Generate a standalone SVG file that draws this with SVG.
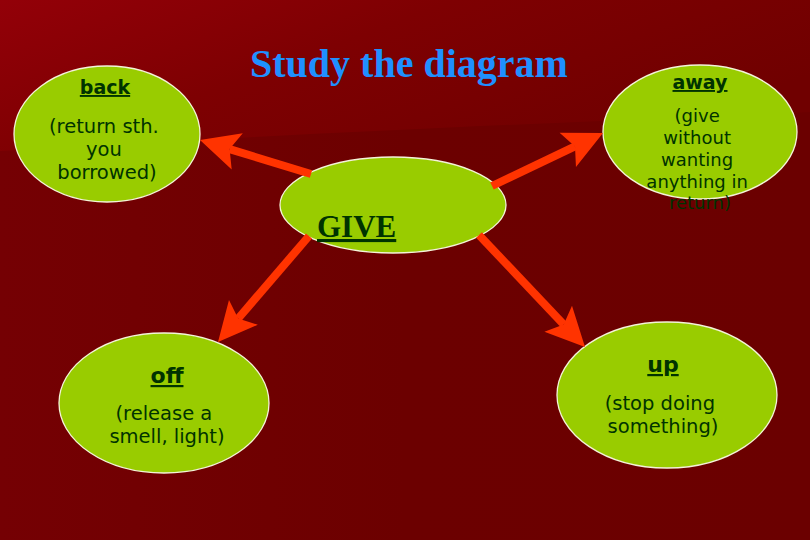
<svg xmlns="http://www.w3.org/2000/svg" width="810" height="540" viewBox="0 0 810 540">
  <defs>
    <linearGradient id="bgLow" x1="0" y1="0" x2="1" y2="0">
      <stop offset="0" stop-color="#750003"/>
      <stop offset="0.5" stop-color="#6c0000"/>
      <stop offset="1" stop-color="#6b0000"/>
    </linearGradient>
    <linearGradient id="bgTop" x1="0" y1="0" x2="1" y2="0.5">
      <stop offset="0" stop-color="#930008"/>
      <stop offset="0.45" stop-color="#7e0002"/>
      <stop offset="1" stop-color="#700000"/>
    </linearGradient>
    <marker id="head" markerUnits="userSpaceOnUse" markerWidth="60" markerHeight="60" refX="0" refY="0" orient="auto" overflow="visible">
      <path d="M31,0 L-8,-19 L0,0 L-8,19 Z" fill="#ff3300"/>
    </marker>
    <style>
      .node ellipse { fill: #99cc00; stroke: #f4f4d8; stroke-width: 1.3; }
      .head { font-family: "DejaVu Sans", Verdana, sans-serif; font-weight: bold; fill: #003300; text-anchor: middle; text-decoration: underline; }
      .desc { font-family: "DejaVu Sans", Verdana, sans-serif; fill: #003300; text-anchor: middle; }
      .conn line { stroke: #ff3300; stroke-width: 8; marker-end: url(#head); }
      .title { font-family: "Liberation Serif", "Times New Roman", serif; font-weight: bold; font-size: 40px; fill: #1f90ff; }
      .give { font-family: "Liberation Serif", "Times New Roman", serif; font-weight: bold; font-size: 31px; fill: #003300; text-decoration: underline; }
    </style>
  </defs>

  <rect x="0" y="0" width="810" height="540" fill="url(#bgLow)"/>
  <path d="M0,0 H810 V112 C620,120 320,132 0,151 Z" fill="url(#bgTop)"/>

  <text class="title" x="250" y="77">Study the diagram</text>

  <g id="node-back" class="node">
    <ellipse cx="107" cy="134" rx="93" ry="68"/>
    <text class="head" x="105" y="94" font-size="19">back</text>
    <text class="desc" font-size="19.5">
      <tspan x="107" y="133">(return sth.</tspan>
      <tspan x="107" y="156">you</tspan>
      <tspan x="107" y="179">borrowed)</tspan>
    </text>
  </g>

  <g id="node-away" class="node">
    <ellipse cx="700" cy="132" rx="97" ry="67"/>
    <text class="head" x="700" y="89" font-size="19">away</text>
    <text class="desc" font-size="18">
      <tspan x="700" y="122">(give</tspan>
      <tspan x="700" y="144">without</tspan>
      <tspan x="700" y="166">wanting</tspan>
      <tspan x="700" y="188">anything in</tspan>
      <tspan x="700" y="209">return)</tspan>
    </text>
  </g>

  <g id="node-give" class="node">
    <ellipse cx="393" cy="205" rx="113" ry="48"/>
    <text class="give" x="317" y="237">GIVE</text>
  </g>

  <g id="node-off" class="node">
    <ellipse cx="164" cy="403" rx="105" ry="70"/>
    <text class="head" x="167" y="383" font-size="22">off</text>
    <text class="desc" font-size="19.5">
      <tspan x="167" y="420">(release a</tspan>
      <tspan x="167" y="443">smell, light)</tspan>
    </text>
  </g>

  <g id="node-up" class="node">
    <ellipse cx="667" cy="395" rx="110" ry="73"/>
    <text class="head" x="663" y="372" font-size="22">up</text>
    <text class="desc" font-size="19.5">
      <tspan x="663" y="410">(stop doing</tspan>
      <tspan x="663" y="433">something)</tspan>
    </text>
  </g>

  <g id="connectors" class="conn">
    <line x1="311" y1="174" x2="229.6" y2="149.1"/>
    <line x1="492" y1="186" x2="575" y2="146.4"/>
    <line x1="309" y1="236" x2="238.2" y2="318.5"/>
    <line x1="479" y1="235" x2="563.7" y2="324.5"/>
  </g>
</svg>
